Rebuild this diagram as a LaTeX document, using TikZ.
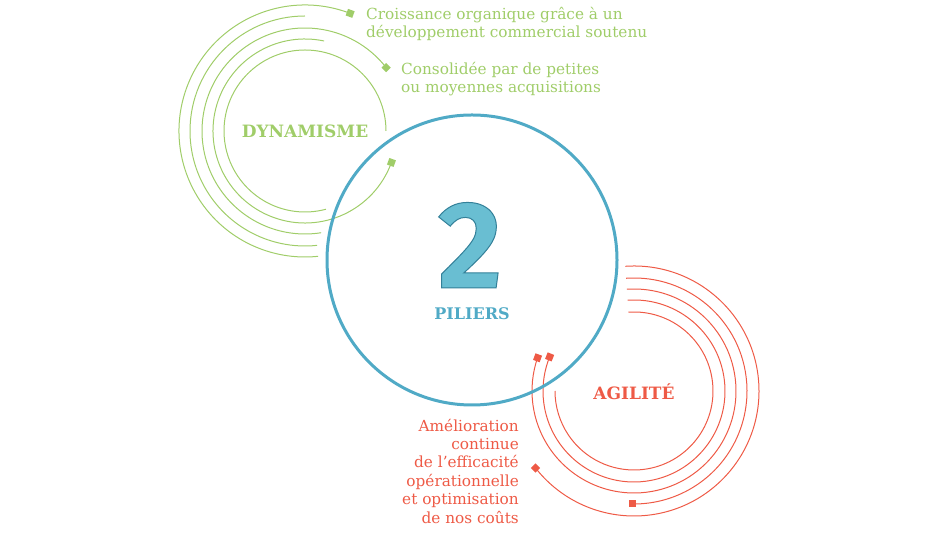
\documentclass[tikz,border=0pt]{standalone}
\usepackage{fontspec}
\setmainfont{DejaVu Serif}
\newfontfamily\twofont{Fira Sans}
\begin{document}
\begin{tikzpicture}[x=1pt,y=1pt,
  gline/.style={draw=gr,line width=1pt},
  rline/.style={draw=rd,line width=1pt},
  sq/.style={fill=#1,minimum size=7pt,inner sep=0pt},
  dm/.style={fill=#1,minimum size=6.5pt,inner sep=0pt,rotate=45},
  body/.style={font=\fontsize{15.3}{18.4}\selectfont,inner sep=0pt}]
\definecolor{gr}{RGB}{160,205,105}
\definecolor{rd}{RGB}{238,90,70}
\definecolor{bl}{RGB}{80,170,198}
\definecolor{blf}{RGB}{105,190,210}
\useasboundingbox (0,0) rectangle (940,534);
\coordinate (gc) at (305,403);
\coordinate (rc) at (634,143);
% green rings
\draw[gline] (gc) ++(69:126) coordinate (g1) arc (69:276:126);
\draw[gline] (gc) ++(90:115) arc (90:276:115);
\draw[gline] (gc) ++(38:103) coordinate (g3) arc (38:279:103);
\draw[gline] (gc) ++(-20:92) coordinate (g4) arc (-20:-282:92);
\draw[gline] (gc) ++(0:81) arc (0:285:81);
\node[sq=gr,rotate=-20] (m1) at (g1) {};
\node[dm=gr] (m3) at (g3) {};
\node[sq=gr,rotate=70] (m4) at (g4) {};
% red rings
\draw[rline] (rc) ++(94:125) arc (94:-142:125) coordinate (r1);
\draw[rline] (rc) ++(94:113) arc (94:-91:113) coordinate (r2);
\draw[rline] (rc) ++(94:102) arc (94:-199:102) coordinate (r3);
\draw[rline] (rc) ++(94:91) arc (94:-202:91) coordinate (r4);
\draw[rline] (rc) ++(94:79) arc (94:-180:79);
\node[dm=rd] (n1) at (r1) {};
\node[sq=rd] (n2) at (r2) {};
\node[sq=rd,rotate=-20] (n3) at (r3) {};
\node[sq=rd,rotate=-22] (n4) at (r4) {};
% blue circle
\node[draw=bl,line width=3pt,circle,minimum size=290pt] (bc) at (472,274) {};
\node[font=\fontsize{124}{124}\selectfont\twofont\bfseries,text=blf,inner sep=0pt,text height=86pt,text depth=0pt] (two) at (470,289) {\special{pdf:literal 2 Tr 1 w 0.2 0.5 0.6 RG}2\special{pdf:literal 0 Tr}};
\node[font=\fontsize{16}{16}\selectfont\bfseries,text=bl,inner sep=0pt] (pil) at (472,220) {PILIERS};
\node[font=\fontsize{17}{17}\selectfont\bfseries,text=gr] (dyn) at (305,403) {DYNAMISME};
\node[font=\fontsize{17}{17}\selectfont\bfseries,text=rd] (agi) at (634,142) {AGILITÉ};
\node[body,text=gr,anchor=west,align=left] (t1) at (366,510) {Croissance organique grâce à un\\développement commercial soutenu};
\node[body,text=gr,anchor=west,align=left] (t2) at (401,455) {Consolidée par de petites\\ou moyennes acquisitions};
\node[body,text=rd,anchor=east,align=right] (t3) at (519,63) {Amélioration\\continue\\de l'efficacité\\opérationnelle\\et optimisation\\de nos coûts};
\end{tikzpicture}
\end{document}
